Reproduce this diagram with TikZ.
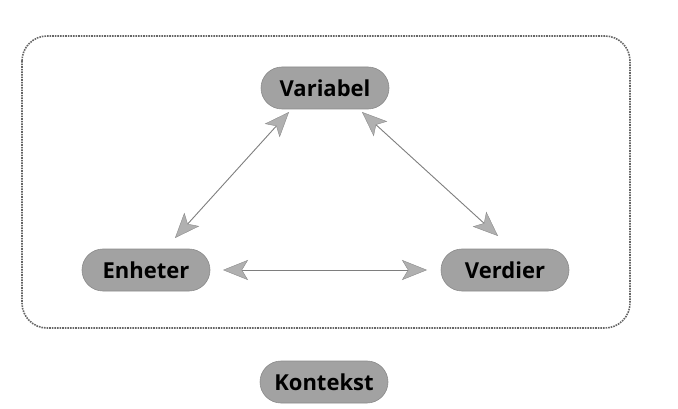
\documentclass[tikz,border=0pt]{standalone}
\usepackage{fontspec}
\setmainfont{Open Sans}
\usetikzlibrary{arrows.meta}
\definecolor{pillgray}{HTML}{A2A2A2}
\definecolor{headgray}{HTML}{B0B0B0}
\definecolor{headedge}{HTML}{8A8A8A}
\definecolor{linegray}{HTML}{7E7E7E}
\definecolor{framegray}{HTML}{666666}
\tikzset{
  pill/.style={draw=pillgray!85!black, line width=0.6pt, fill=pillgray, rounded corners=21pt,
    minimum width=128pt, minimum height=42pt, inner sep=0pt, font=\fontsize{22}{26}\selectfont\bfseries, text=black},
  link/.style={draw=linegray, line width=0.9pt,
    {Stealth[fill=headgray, color=headedge, line width=0.4pt, length=25pt, width=20pt, inset=6pt]}-{Stealth[fill=headgray, color=headedge, line width=0.4pt, length=25pt, width=20pt, inset=6pt]}},
  frame/.style={draw=framegray, line width=1.6pt, densely dotted, rounded corners=25pt}
}
\begin{document}
\begin{tikzpicture}[x=1pt,y=-1pt]
\useasboundingbox (0,0) rectangle (678,409);
\draw[frame] (22,36) rectangle (630,328);
\node[pill] (var) at (325,88) {Variabel};
\node[pill] (enh) at (146,270) {Enheter};
\node[pill] (ver) at (505,270) {Verdier};
\node[pill] (kon) at (324,382) {Kontekst};
\coordinate (a1) at (289,112);
\coordinate (a2) at (175,238);
\coordinate (b1) at (362,112);
\coordinate (b2) at (498,236);
\coordinate (c1) at (223,270);
\coordinate (c2) at (427,270);
\draw[link] (a1) -- (a2);
\draw[link] (b1) -- (b2);
\draw[link] (c1) -- (c2);
\end{tikzpicture}
\end{document}
